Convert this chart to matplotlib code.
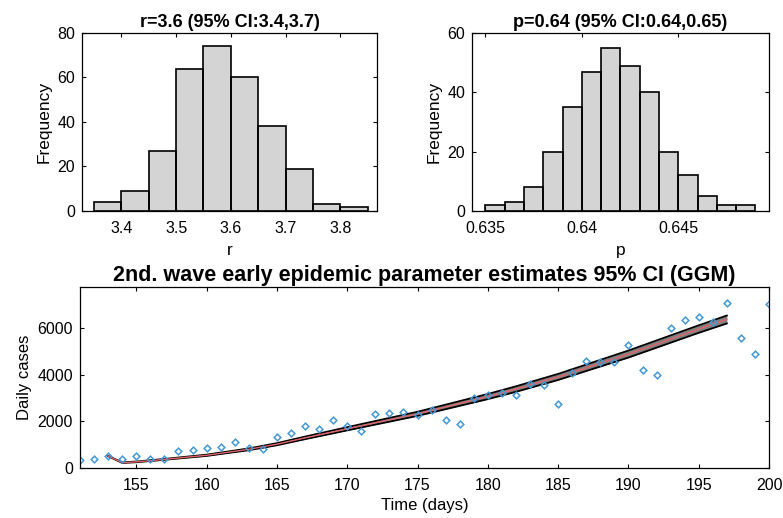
import matplotlib
matplotlib.use('Agg')
import matplotlib.pyplot as plt
from matplotlib.ticker import FormatStrFormatter

plt.rcParams['font.family'] = ['Liberation Sans', 'DejaVu Sans']

# =============================================================
#  donnees
# =============================================================

# histogramme de r (bootstrap)
r_edges  = [3.35, 3.40, 3.45, 3.50, 3.55, 3.60, 3.65, 3.70, 3.75, 3.80, 3.85]
r_counts = [4, 9, 27, 64, 74, 60, 38, 19, 3, 2]

# histogramme de p (bootstrap)
p_edges  = [0.635, 0.636, 0.637, 0.638, 0.639, 0.640, 0.641, 0.642,
            0.643, 0.644, 0.645, 0.646, 0.647, 0.648, 0.649]
p_counts = [2, 3, 8, 20, 35, 47, 55, 49, 40, 20, 12, 5, 2, 2]

# cas journaliers observes
jours = list(range(151, 201))
cas = [350, 400, 500, 390, 500, 400, 400, 714, 780, 860,
       914, 1114, 860, 810, 1314, 1480, 1780, 1690, 2040, 1780,
       1580, 2300, 2357, 2400, 2257, 2486, 2057, 1900, 3000, 3115,
       3215, 3115, 3600, 3572, 2757, 4072, 4600, 4530, 4560, 5260,
       4186, 3972, 6015, 6330, 6473, 6245, 7087, 5558, 4887, 7030]

# ajustement GGM (moyenne + bande IC 95%)
jours_fit = [153, 154, 155, 157, 160, 163, 165, 167, 170, 175, 180, 182, 185, 190, 195, 197]
fit_moy = [510, 230, 262, 370, 545, 800, 1020, 1290, 1680, 2320, 3060, 3380, 3900, 4880, 5950, 6370]
fit_bas = [505, 218, 247, 352, 518, 762, 975, 1235, 1612, 2232, 2950, 3262, 3770, 4730, 5790, 6190]
fit_haut = [515, 242, 278, 388, 572, 838, 1065, 1345, 1748, 2408, 3170, 3498, 4030, 5030, 6110, 6530]

gris_barre = '#d4d4d4'
bleu = '#4398d6'


def style_axes(ax):
    ax.tick_params(direction='in', top=True, right=True, length=3,
                   labelsize=11.5, width=0.8)
    ax.tick_params(axis='x', pad=7)
    ax.tick_params(axis='y', pad=5)
    for s in ax.spines.values():
        s.set_linewidth(0.9)


fig = plt.figure(figsize=(7.83, 5.18), dpi=100)

# =============================================================
#  histogramme r
# =============================================================
ax1 = fig.add_axes([0.1047, 0.5927, 0.3768, 0.3436])
ax1.stairs(r_counts, r_edges, fill=True, color=gris_barre)
ax1.bar(r_edges[:-1], r_counts, width=[b - a for a, b in zip(r_edges[:-1], r_edges[1:])],
        align='edge', facecolor='none', edgecolor='black', linewidth=1.2)
ax1.set_xlim(3.328, 3.867)
ax1.set_ylim(0, 80)
ax1.set_xticks([3.4, 3.5, 3.6, 3.7, 3.8])
ax1.set_yticks([0, 20, 40, 60, 80])
ax1.set_xlabel('r', fontsize=12.5, labelpad=5)
ax1.set_ylabel('Frequency', fontsize=12.5)
ax1.set_title('r=3.6 (95% CI:3.4,3.7)', fontsize=13, fontweight='bold', pad=4)
style_axes(ax1)

# =============================================================
#  histogramme p
# =============================================================
ax2 = fig.add_axes([0.6028, 0.5927, 0.3793, 0.3436])
ax2.stairs(p_counts, p_edges, fill=True, color=gris_barre)
ax2.bar(p_edges[:-1], p_counts, width=[b - a for a, b in zip(p_edges[:-1], p_edges[1:])],
        align='edge', facecolor='none', edgecolor='black', linewidth=1.2)
ax2.set_xlim(0.6343, 0.6497)
ax2.set_ylim(0, 60)
ax2.set_xticks([0.635, 0.64, 0.645])
ax2.xaxis.set_major_formatter(FormatStrFormatter('%g'))
ax2.set_yticks([0, 20, 40, 60])
ax2.set_xlabel('p', fontsize=12.5, labelpad=5)
ax2.set_ylabel('Frequency', fontsize=12.5)
ax2.set_title('p=0.64 (95% CI:0.64,0.65)', fontsize=13, fontweight='bold', pad=4)
style_axes(ax2)

# =============================================================
#  courbe des cas + ajustement
# =============================================================
ax3 = fig.add_axes([0.1022, 0.0965, 0.88, 0.3494])
ax3.fill_between(jours_fit, fit_bas, fit_haut, color='0.5', linewidth=0)
ax3.plot(jours_fit, fit_bas, color='black', linewidth=1.3)
ax3.plot(jours_fit, fit_haut, color='black', linewidth=1.3)
ax3.plot(jours_fit, fit_moy, color='#e0656b', linewidth=1.0)
ax3.plot(jours, cas, linestyle='none', marker='D', markersize=3.4,
         markerfacecolor='none', markeredgecolor=bleu, markeredgewidth=1.1)
ax3.set_xlim(151, 200)
ax3.set_ylim(0, 7750)
ax3.set_xticks([155, 160, 165, 170, 175, 180, 185, 190, 195, 200])
ax3.set_yticks([0, 2000, 4000, 6000])
ax3.set_xlabel('Time (days)', fontsize=12, labelpad=4)
ax3.set_ylabel('Daily cases', fontsize=12)
ax3.set_title('2nd. wave early epidemic parameter estimates 95% CI (GGM)',
              fontsize=15.5, fontweight='bold', pad=4)
style_axes(ax3)

fig.savefig('out.png', dpi=100)
